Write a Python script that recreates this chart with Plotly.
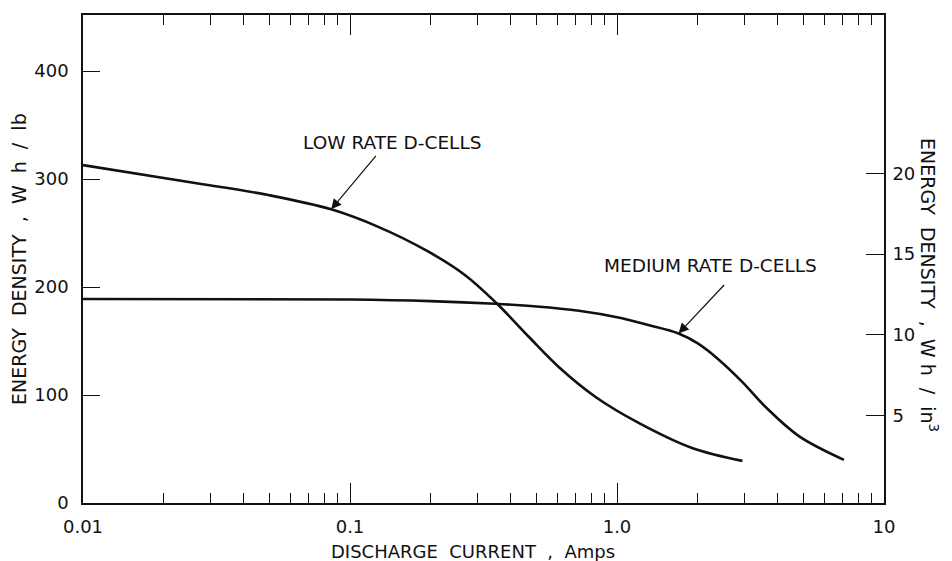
import numpy as np
import plotly.graph_objects as go

# ---- data ----
low_current = [0.01, 0.027, 0.05, 0.085, 0.127, 0.196, 0.27, 0.354, 0.467, 0.605,
               0.834, 1.21, 1.91, 2.95]
low_energy = [313, 296, 285, 272, 256, 233, 211, 185, 154, 126,
              98, 74, 51, 39]

med_current = [0.01, 0.1, 0.2, 0.35, 0.5, 0.72, 1.0, 1.3, 1.7, 2.0, 2.4, 2.95,
               3.6, 4.8, 7.08]
med_energy = [189, 188.5, 187, 184.5, 182, 178, 172, 165, 157, 148, 133, 112,
              89, 62, 40]

x_major = [0.01, 0.1, 1.0, 10]
x_major_text = ["0.01", "0.1", "1.0", "10"]
x_minor = [m * d for d in (0.01, 0.1, 1.0) for m in range(2, 10)]
y_left_ticks = [0, 100, 200, 300, 400]
y_right_ticks = [5, 10, 15, 20]

low_label = "LOW RATE D-CELLS"
med_label = "MEDIUM RATE D-CELLS"
low_arrow_idx = 3     # arrow points at low_current[3]
med_arrow_idx = 8     # arrow points at med_current[8]

FONT = "DejaVu Sans"
BLACK = "#111111"

fig = go.Figure()
fig.add_trace(go.Scatter(x=low_current, y=low_energy, mode="lines",
                         line=dict(color=BLACK, width=2.6, shape="spline", smoothing=1.0),
                         showlegend=False))
fig.add_trace(go.Scatter(x=med_current, y=med_energy, mode="lines",
                         line=dict(color=BLACK, width=2.6, shape="spline", smoothing=1.0),
                         showlegend=False))
# invisible trace to activate right axis
fig.add_trace(go.Scatter(x=[0.01], y=[10], yaxis="y2", mode="markers",
                         marker=dict(opacity=0), showlegend=False, hoverinfo="skip"))

fig.update_layout(
    width=944, height=553,
    margin=dict(l=75, r=68, t=5, b=58),
    paper_bgcolor="white", plot_bgcolor="white",
    font=dict(family=FONT, size=18, color=BLACK),
    xaxis=dict(type="log", range=[-2, 1], tickmode="array", tickvals=x_major,
               ticktext=x_major_text, ticks="inside", ticklen=20, tickwidth=1.3,
               tickcolor=BLACK, showline=True, linecolor=BLACK, linewidth=1.6,
               mirror="ticks", showgrid=False, zeroline=False,
               ticklabelstandoff=7,
               minor=dict(tickmode="array", tickvals=x_minor, ticks="inside",
                          ticklen=10, tickwidth=1.2, tickcolor=BLACK, showgrid=False)),
    yaxis=dict(range=[0, 452], tickmode="array", tickvals=y_left_ticks,
               ticks="inside", ticklen=17, tickwidth=1.3, tickcolor=BLACK,
               showline=True, linecolor=BLACK, linewidth=1.6, showgrid=False,
               zeroline=False, ticklabelstandoff=9),
    yaxis2=dict(overlaying="y", side="right", range=[-0.4, 29.8], tickmode="array",
                tickvals=y_right_ticks, ticks="inside", ticklen=18, tickwidth=1.3,
                tickcolor=BLACK, showline=True, linecolor=BLACK, linewidth=1.6,
                showgrid=False, zeroline=False, ticklabelstandoff=3),
)

# plot area in figure pixels: x 75..876, y 5..495
anns = [
    dict(text="DISCHARGE  CURRENT  ,  Amps", xref="paper", yref="paper",
         x=0.4875, y=-0.1, showarrow=False, font=dict(size=18),
         xanchor="center", yanchor="middle"),
    dict(text="ENERGY  DENSITY  ,  W  h  /  lb", xref="paper", yref="paper",
         x=-0.08, y=0.5, showarrow=False, textangle=-90, font=dict(size=19),
         xanchor="center", yanchor="middle"),
    dict(text="ENERGY  DENSITY  ,  W h  /  in<sup>3</sup>", xref="paper", yref="paper",
         x=1.056, y=0.447, showarrow=False, textangle=90, font=dict(size=19),
         xanchor="center", yanchor="middle"),
    dict(text=low_label, xref="paper", yref="paper", x=0.386, y=0.739,
         showarrow=False, font=dict(size=18.5), xanchor="center", yanchor="middle"),
    dict(text=med_label, xref="paper", yref="paper", x=0.784, y=0.486,
         showarrow=False, font=dict(size=18.5), xanchor="center", yanchor="middle"),
    dict(text="", x=np.log10(low_current[low_arrow_idx]), y=low_energy[low_arrow_idx],
         xref="x", yref="y", showarrow=True, ax=46, ay=-55, arrowhead=2,
         arrowsize=1.7, arrowwidth=1.2, arrowcolor=BLACK, standoff=0),
    dict(text="", x=np.log10(med_current[med_arrow_idx]), y=med_energy[med_arrow_idx],
         xref="x", yref="y", showarrow=True, ax=47, ay=-50, arrowhead=2,
         arrowsize=1.7, arrowwidth=1.2, arrowcolor=BLACK, standoff=0),
]
fig.update_layout(annotations=anns)

fig.write_html("out.html")
